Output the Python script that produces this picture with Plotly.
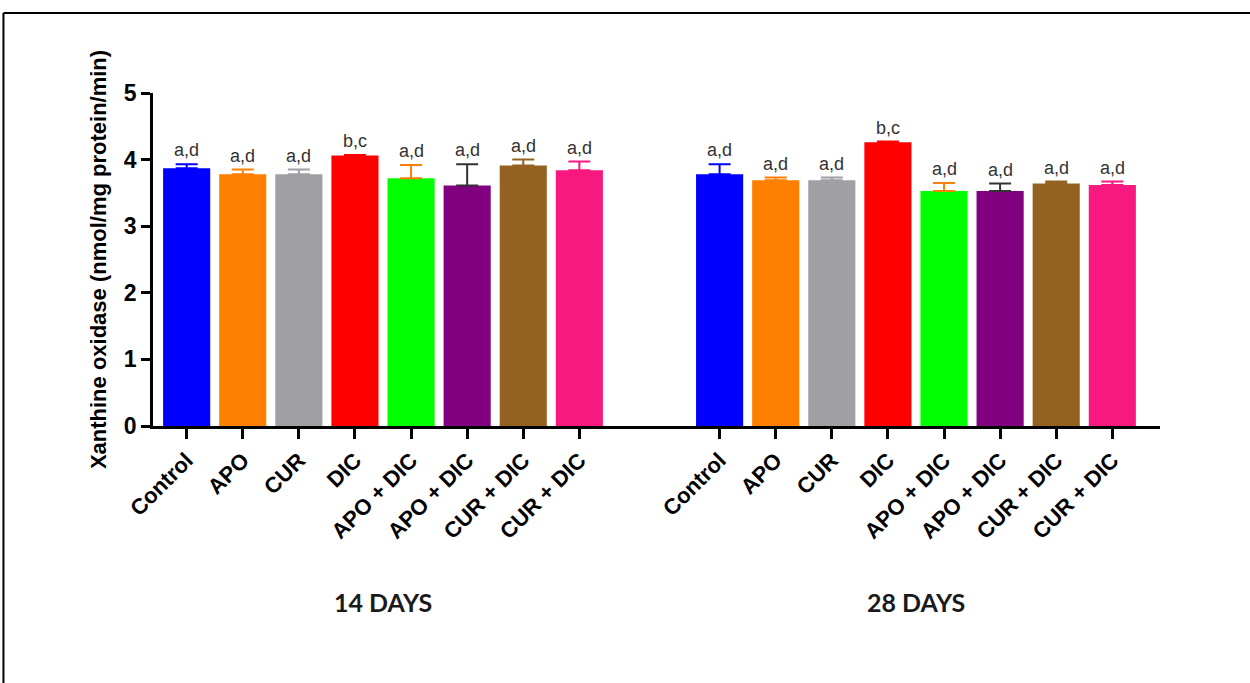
import plotly.graph_objects as go

treatments = ["Control", "APO", "CUR", "DIC", "APO + DIC", "APO + DIC", "CUR + DIC", "CUR + DIC"]
groups = ["14 DAYS", "28 DAYS"]
values_14 = [3.87, 3.78, 3.78, 4.06, 3.72, 3.61, 3.91, 3.84]
errtop_14 = [3.93, 3.85, 3.85, 4.07, 3.92, 3.93, 4.00, 3.97]
values_28 = [3.78, 3.69, 3.69, 4.26, 3.53, 3.53, 3.64, 3.62]
errtop_28 = [3.93, 3.73, 3.73, 4.27, 3.65, 3.64, 3.67, 3.67]
letters_14 = ["a,d", "a,d", "a,d", "b,c", "a,d", "a,d", "a,d", "a,d"]
letters_28 = ["a,d", "a,d", "a,d", "b,c", "a,d", "a,d", "a,d", "a,d"]

bar_colors = ["#0000FF", "#FF8000", "#A0A0A4", "#FF0000", "#00FF00", "#800080", "#946220", "#F7197F"]
err_colors = ["#0000FF", "#FF8000", "#A0A0A4", "#FF0000", "#FF8000", "#333333", "#946220", "#F7197F"]

GROUP_OFFSET = 9.5
n = len(treatments)
pos14 = list(range(n))
pos28 = [i + GROUP_OFFSET for i in range(n)]

fig = go.Figure()
for i in range(n):
    vals = [values_14[i], values_28[i]]
    errs = [errtop_14[i] - values_14[i], errtop_28[i] - values_28[i]]
    fig.add_trace(go.Bar(
        x=[pos14[i], pos28[i]], y=vals, width=0.84,
        marker=dict(color=bar_colors[i], line=dict(width=0)),
        error_y=dict(type="data", symmetric=False, array=errs, arrayminus=[0, 0],
                     color=err_colors[i], thickness=2, width=11),
        showlegend=False, hoverinfo="y",
    ))

annotations = []
for i in range(n):
    for pos, top, lab in [(pos14[i], errtop_14[i], letters_14[i]), (pos28[i], errtop_28[i], letters_28[i])]:
        annotations.append(dict(x=pos, y=top, xref="x", yref="y", text=lab, showarrow=False,
                                yanchor="bottom", yshift=2,
                                font=dict(family="Liberation Sans, Arial", size=18, color="#333333")))

for g, cx in zip(groups, [(n - 1) / 2, GROUP_OFFSET + (n - 1) / 2]):
    annotations.append(dict(x=cx, y=-0.53, xref="x", yref="paper", text="<b>" + g + "</b>",
                            showarrow=False, yanchor="middle",
                            font=dict(family="Lato, Open Sans", size=25, color="#1a1a1a")))

fig.update_layout(
    width=1250, height=683,
    margin=dict(l=153, r=90, t=93, b=257),
    paper_bgcolor="white", plot_bgcolor="white",
    barmode="overlay",
    annotations=annotations,
    xaxis=dict(
        range=[-0.6, 17.35], tickmode="array", tickvals=pos14 + pos28,
        ticktext=["<b>" + t + "</b>" for t in treatments] * 2,
        tickangle=-45, showgrid=False, zeroline=False,
        showline=True, linecolor="black", linewidth=2.5,
        ticks="outside", ticklen=10, tickwidth=2.5, tickcolor="black",
        tickfont=dict(family="Liberation Sans, Arial", size=22, color="black"),
    ),
    yaxis=dict(
        range=[0, 5], tickmode="array", tickvals=[0, 1, 2, 3, 4, 5],
        ticktext=["<b>%d</b>" % v for v in [0, 1, 2, 3, 4, 5]],
        showgrid=False, zeroline=False,
        showline=True, linecolor="black", linewidth=2.5,
        ticks="outside", ticklen=9, tickwidth=2.5, tickcolor="black",
        tickfont=dict(family="Liberation Sans, Arial", size=23, color="black"),
        title=dict(text="<b>Xanthine oxidase (nmol/mg protein/min)</b>", standoff=12,
                   font=dict(family="Liberation Sans, Arial", size=22, color="black")),
    ),
    shapes=[
        dict(type="line", xref="paper", yref="paper", x0=-0.1485, x1=1.2, y0=1.240, y1=1.240,
             line=dict(color="black", width=2)),
        dict(type="line", xref="paper", yref="paper", x0=-0.1485, x1=-0.1485, y0=1.240, y1=-1.0,
             line=dict(color="black", width=2)),
    ],
)

fig.write_html("out.html", config={"displayModeBar": False},
               post_script="document.body.style.margin='0';")
